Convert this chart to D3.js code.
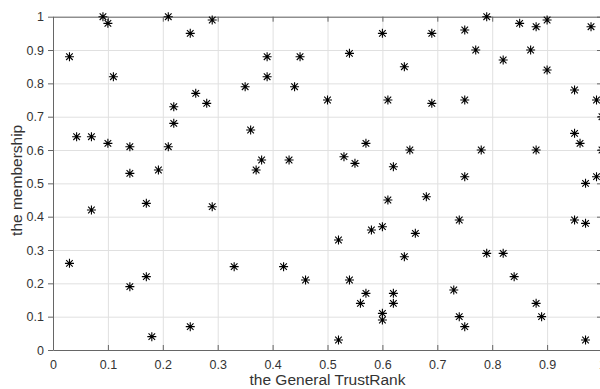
<!DOCTYPE html>
<html>
<head>
<meta charset="utf-8">
<script src="https://cdn.jsdelivr.net/npm/d3@7"></script>
<style>
  html, body { margin: 0; padding: 0; background: #fff; }
  svg { display: block; font-family: Arial, 'Liberation Sans', Helvetica, sans-serif; }
</style>
</head>
<body>
<svg id="chart" width="600" height="389"></svg>
<script>
// x = the General TrustRank, y = the membership
const trustRank = [
  0.03, 0.03, 0.043, 0.07, 0.07, 0.091, 0.10, 0.10, 0.11, 0.14,
  0.14, 0.14, 0.17, 0.17, 0.18, 0.192, 0.21, 0.21, 0.22, 0.22,
  0.25, 0.25, 0.26, 0.28, 0.29, 0.29, 0.33, 0.35, 0.36, 0.37,
  0.38, 0.39, 0.39, 0.42, 0.43, 0.44, 0.45, 0.46, 0.50, 0.52,
  0.52, 0.53, 0.54, 0.54, 0.55, 0.56, 0.57, 0.57, 0.58, 0.60,
  0.60, 0.60, 0.60, 0.61, 0.61, 0.62, 0.62, 0.62, 0.64, 0.64,
  0.65, 0.66, 0.68, 0.69, 0.69, 0.73, 0.74, 0.74, 0.75, 0.75,
  0.75, 0.75, 0.77, 0.78, 0.79, 0.79, 0.82, 0.82, 0.84, 0.85,
  0.87, 0.88, 0.88, 0.88, 0.89, 0.90, 0.90, 0.95, 0.95, 0.95,
  0.96, 0.97, 0.97, 0.97, 0.98, 0.99, 0.99, 1.00, 1.00
];
const membership = [
  0.88, 0.26, 0.64, 0.64, 0.42, 1.00, 0.98, 0.62, 0.82, 0.61,
  0.53, 0.19, 0.44, 0.22, 0.04, 0.54, 1.00, 0.61, 0.73, 0.68,
  0.95, 0.07, 0.77, 0.74, 0.99, 0.43, 0.25, 0.79, 0.66, 0.54,
  0.57, 0.88, 0.82, 0.25, 0.57, 0.79, 0.88, 0.21, 0.75, 0.33,
  0.03, 0.58, 0.89, 0.21, 0.56, 0.14, 0.62, 0.17, 0.36, 0.95,
  0.37, 0.11, 0.09, 0.75, 0.45, 0.55, 0.17, 0.14, 0.85, 0.28,
  0.60, 0.35, 0.46, 0.95, 0.74, 0.18, 0.39, 0.10, 0.96, 0.75,
  0.52, 0.07, 0.90, 0.60, 1.00, 0.29, 0.87, 0.29, 0.22, 0.98,
  0.90, 0.97, 0.60, 0.14, 0.10, 0.99, 0.84, 0.78, 0.65, 0.39,
  0.62, 0.38, 0.03, 0.50, 0.97, 0.75, 0.52, 0.70, 0.60
];
const xTicks = [0, 0.1, 0.2, 0.3, 0.4, 0.5, 0.6, 0.7, 0.8, 0.9, 1];
const yTicks = [0, 0.1, 0.2, 0.3, 0.4, 0.5, 0.6, 0.7, 0.8, 0.9, 1];
const xLabel = 'the General TrustRank';
const yLabel = 'the membership';

const svg = d3.select('#chart');
const box = { left: 53, right: 602, top: 16.7, bottom: 350 };

const x = d3.scaleLinear().domain([0, 1]).range([box.left, box.right]);
const y = d3.scaleLinear().domain([0, 1]).range([box.bottom, box.top]);
const fmt = d => (d === 0 || d === 1) ? String(d) : d.toFixed(1);

// grid
svg.append('g')
  .attr('transform', 'translate(0,' + box.bottom + ')')
  .call(d3.axisBottom(x).tickValues(xTicks).tickSize(-(box.bottom - box.top)).tickFormat(''))
  .call(g => g.select('.domain').remove())
  .call(g => g.selectAll('line').attr('stroke', '#e0e0e0'));
svg.append('g')
  .attr('transform', 'translate(' + box.left + ',0)')
  .call(d3.axisLeft(y).tickValues(yTicks).tickSize(-(box.right - box.left)).tickFormat(''))
  .call(g => g.select('.domain').remove())
  .call(g => g.selectAll('line').attr('stroke', '#e0e0e0'));

// box with ticks
const axisColor = '#666';
const textColor = '#333';

const gBottom = svg.append('g')
  .attr('transform', 'translate(0,' + box.bottom + ')')
  .call(d3.axisBottom(x).tickValues(xTicks).tickSizeInner(-5).tickSizeOuter(0).tickPadding(10).tickFormat(fmt));
const gTop = svg.append('g')
  .attr('transform', 'translate(0,' + box.top + ')')
  .call(d3.axisTop(x).tickValues(xTicks).tickSizeInner(-5).tickSizeOuter(0).tickFormat(''));
const gLeft = svg.append('g')
  .attr('transform', 'translate(' + box.left + ',0)')
  .call(d3.axisLeft(y).tickValues(yTicks).tickSizeInner(5).tickSizeOuter(0).tickPadding(4).tickFormat(fmt));
const gRight = svg.append('g')
  .attr('transform', 'translate(' + box.right + ',0)')
  .call(d3.axisRight(y).tickValues(yTicks).tickSizeInner(-5).tickSizeOuter(0).tickFormat(''));

[gBottom, gTop, gLeft, gRight].forEach(g => {
  g.select('.domain').attr('stroke', axisColor);
  g.selectAll('.tick line').attr('stroke', axisColor);
  g.selectAll('.tick text').attr('fill', textColor).style('font-size', '12.5px')
    .style('font-family', "Arial, 'Liberation Sans', sans-serif");
});

// asterisk markers
const star = (r, d) => 'M' + (-r) + ',0H' + r + 'M0,' + (-r) + 'V' + r +
  'M' + (-d) + ',' + (-d) + 'L' + d + ',' + d + 'M' + (-d) + ',' + d + 'L' + d + ',' + (-d);

svg.append('g')
  .selectAll('path')
  .data(d3.range(trustRank.length))
  .join('path')
  .attr('transform', i => 'translate(' + x(trustRank[i]) + ',' + y(membership[i]) + ')')
  .attr('d', star(4.5, 3.3))
  .attr('fill', 'none')
  .attr('stroke', '#000')
  .attr('stroke-width', 1.1);

// axis labels
svg.append('text')
  .attr('x', x(0.5))
  .attr('y', 385)
  .attr('text-anchor', 'middle')
  .attr('fill', textColor)
  .style('font-size', '15.5px')
  .text(xLabel);

svg.append('text')
  .attr('transform', 'translate(22,' + (y(0.5) - 3) + ') rotate(-90)')
  .attr('text-anchor', 'middle')
  .attr('fill', textColor)
  .style('font-size', '15.5px')
  .text(yLabel);
</script>
</body>
</html>
